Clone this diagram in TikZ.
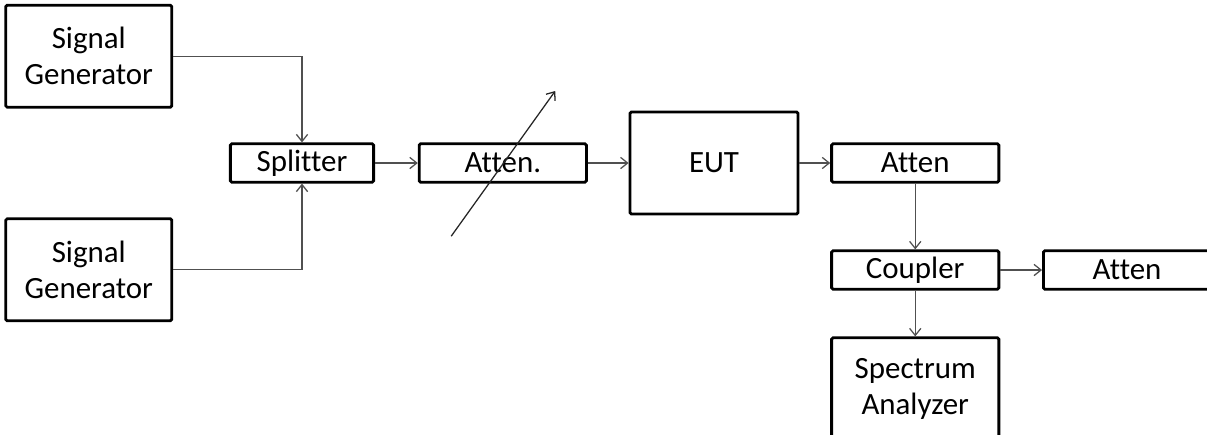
\documentclass[tikz,border=0pt]{standalone}
\usepackage{fontspec}
\setmainfont{Carlito}[Ligatures=NoCommon]
\usepackage{tikz}
\usetikzlibrary{positioning,arrows.meta,calc}
\definecolor{wire}{RGB}{80,80,80}

\begin{document}
\begin{tikzpicture}[>={Straight Barb[length=5pt,width=8pt]},
    box/.style={draw,line width=2pt,rounded corners=1pt,align=center,inner sep=0pt,
      font=\fontsize{22}{25.6}\selectfont},
    bigbox/.style={box,minimum width=4.15cm,minimum height=2.55cm},
    slimbox/.style={box,minimum width=4.18cm,minimum height=0.96cm},
    link/.style={->,draw=wire,line width=0.9pt}]
    \useasboundingbox (0,0) rectangle (30.175,-10.85);
    \node[box,minimum width=3.58cm,minimum height=0.96cm] (split) at (7.55,-4.075) {Splitter};
    \node[bigbox,above left=0.845cm and 1.395cm of split] (sg1) {Signal\\Generator};
    \node[bigbox,below left=0.845cm and 1.395cm of split] (sg2) {Signal\\Generator};
    \node[slimbox,right=1.07cm of split] (att1) {Atten.};
    \node[bigbox,minimum width=4.2cm,right=1.02cm of att1] (eut) {EUT};
    \node[slimbox,right=0.77cm of eut] (att2) {Atten};
    \node[slimbox,below=1.645cm of att2] (coup) {Coupler};
    \node[slimbox,right=1.045cm of coup] (att3) {Atten};
    \node[bigbox,minimum width=4.18cm,below=1.145cm of coup] (sa) {Spectrum\\Analyzer};
    % variable attenuator mark
    \coordinate (vtail) at ($(att1)+(-1.29,-1.83)$);
    \coordinate (vtip) at ($(att1)+(1.31,1.8)$);
    \draw[link,draw=black!85] (vtail) -- (vtip);
    \draw[link] (sg1) -| (split); \draw[link] (sg2) -| (split);
    \draw[link] (split) -- (att1); \draw[link] (att1) -- (eut);
    \draw[link] (eut) -- (att2); \draw[link] (att2) -- (coup);
    \draw[link] (coup) -- (att3); \draw[link] (coup) -- (sa);
  \end{tikzpicture}
\end{document}
